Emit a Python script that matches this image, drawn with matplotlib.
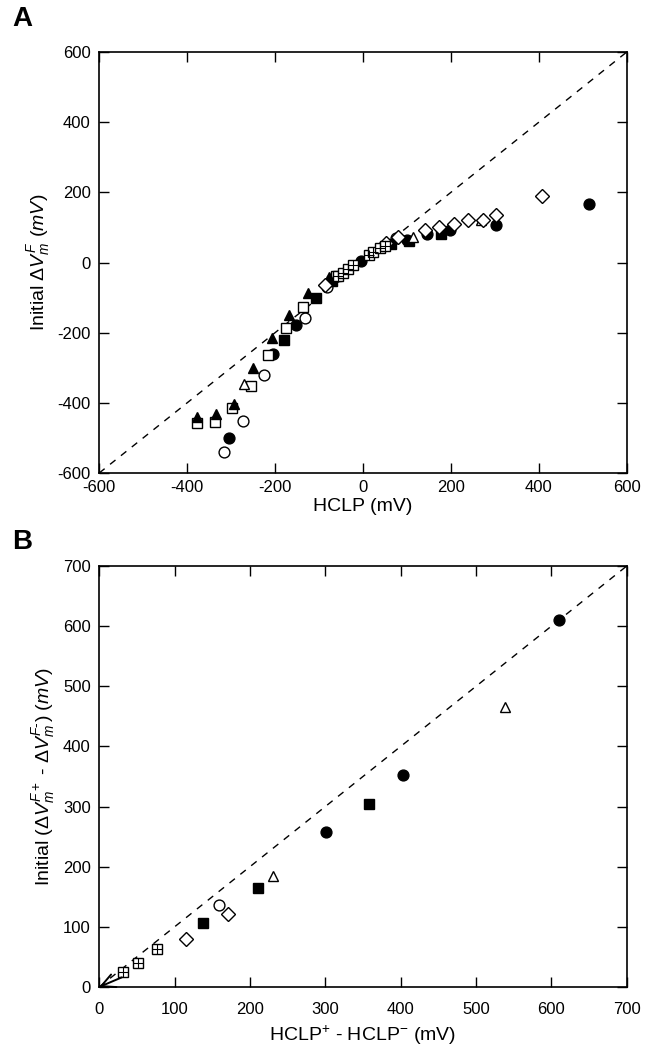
import matplotlib
matplotlib.use('Agg')
import matplotlib.pyplot as plt
import numpy as np

plt.rcParams['font.family'] = ['Liberation Sans', 'DejaVu Sans']
plt.rcParams['mathtext.fontset'] = 'custom'
plt.rcParams['mathtext.rm'] = 'Liberation Sans'
plt.rcParams['mathtext.it'] = 'Liberation Sans:italic'
plt.rcParams['mathtext.bf'] = 'Liberation Sans:bold'
plt.rcParams['axes.unicode_minus'] = False

# ---- panel A: HCLP (mV) vs initial dVm^F (mV), one list pair per symbol
a_fcirc_x = [-305, -204, -153, -4, 99, 146, 197, 302, 514]
a_fcirc_y = [-500, -261, -178, 5, 63, 81, 92, 108, 168]
a_ocirc_x = [-317, -272, -226, -132, -83, 75]
a_ocirc_y = [-540, -452, -322, -157, -70, 70]
a_fsq_x = [-180, -107, -70, 64, 105, 178]
a_fsq_y = [-222, -100, -54, 52, 62, 82]
a_osq_x = [-377, -336, -298, -255, -217, -174, -136, -62]
a_osq_y = [-458, -455, -414, -352, -265, -188, -127, -38]
a_ftri_x = [-377, -335, -294, -251, -208, -168, -125, -77]
a_ftri_y = [-440, -433, -402, -302, -214, -151, -87, -40]
a_otri_x = [-271, 114, 269]
a_otri_y = [-345, 74, 122]
a_diam_x = [-87, 53, 80, 142, 174, 206, 239, 272, 302, 407]
a_diam_y = [-64, 55, 74, 93, 101, 110, 120, 121, 136, 191]
a_xsq_x = [-57, -45, -34, -23, 14, 23, 38, 50]
a_xsq_y = [-38, -29, -19, -7, 22, 31, 41, 48]

# ---- panel B: HCLP+ - HCLP- (mV) vs initial difference (mV)
b_fcirc_x = [301, 403, 610]
b_fcirc_y = [258, 353, 610]
b_ocirc_x = [159]
b_ocirc_y = [137]
b_fsq_x = [138, 211, 358]
b_fsq_y = [106, 165, 304]
b_otri_x = [230, 539]
b_otri_y = [185, 465]
b_diam_x = [115, 171]
b_diam_y = [79, 122]
b_xsq_x = [32, 52, 77]
b_xsq_y = [25, 40, 63]

a_lim = [-600, 600]
a_ticks = [-600, -400, -200, 0, 200, 400, 600]
b_lim = [0, 700]
b_ticks = [0, 100, 200, 300, 400, 500, 600, 700]

ms = 7.8


def style(ax, lim, ticks):
    ax.set_xlim(lim)
    ax.set_ylim(lim)
    ax.set_xticks(ticks)
    ax.set_yticks(ticks)
    ax.tick_params(direction='in', length=7, width=1.0, top=True, right=True,
                   labelsize=12, pad=6)
    for s in ax.spines.values():
        s.set_linewidth(1.2)
    # identity line
    ax.plot(lim, lim, color='black', ls=(0, (5, 5)), lw=1.0, zorder=1)


def symbols(ax, fc, oc, fs, os_, ft, ot, dm, xs):
    kw = dict(ls='none', ms=ms, mec='black', mew=1.0, zorder=3)
    if fc: ax.plot(fc[0], fc[1], 'o', mfc='black', **kw)
    if oc: ax.plot(oc[0], oc[1], 'o', mfc='white', **kw)
    if fs: ax.plot(fs[0], fs[1], 's', mfc='black', **kw)
    if os_: ax.plot(os_[0], os_[1], 's', mfc='white', **kw)
    if ft: ax.plot(ft[0], ft[1], '^', mfc='black', **kw)
    if ot: ax.plot(ot[0], ot[1], '^', mfc='white', **kw)
    if dm: ax.plot(dm[0], dm[1], 'D', mfc='white', ms=ms * 0.85, ls='none',
                   mec='black', mew=1.0, zorder=3)
    if xs:
        ax.plot(xs[0], xs[1], 's', mfc='white', **kw)
        ax.plot(xs[0], xs[1], '+', color='black', ms=ms, mew=0.8, ls='none',
                zorder=4)


fig = plt.figure(figsize=(6.57, 10.53), dpi=100)

axA = fig.add_axes([0.151, 0.5508, 0.803, 0.3998])
style(axA, a_lim, a_ticks)
axA.tick_params(axis='x', pad=5)
symbols(axA, (a_fcirc_x, a_fcirc_y), (a_ocirc_x, a_ocirc_y),
        (a_fsq_x, a_fsq_y), (a_osq_x, a_osq_y), (a_ftri_x, a_ftri_y),
        (a_otri_x, a_otri_y), (a_diam_x, a_diam_y), (a_xsq_x, a_xsq_y))
axA.set_xlabel('HCLP (mV)', fontsize=14, labelpad=2)
axA.set_ylabel(r'Initial $\Delta\mathit{V}_{m}^{F}\ (mV)$', fontsize=14,
               labelpad=4)

axB = fig.add_axes([0.151, 0.0627, 0.803, 0.3998])
style(axB, b_lim, b_ticks)
axB.tick_params(axis='x', pad=11)
symbols(axB, (b_fcirc_x, b_fcirc_y), (b_ocirc_x, b_ocirc_y),
        (b_fsq_x, b_fsq_y), None, None,
        (b_otri_x, b_otri_y), (b_diam_x, b_diam_y), (b_xsq_x, b_xsq_y))
axB.annotate('', xy=(0, 0), xytext=(30, 16),
             arrowprops=dict(arrowstyle='->, head_length=0.7, head_width=0.35',
                             color='black', lw=1.4, mutation_scale=14,
                             shrinkA=0, shrinkB=0),
             zorder=5, annotation_clip=False)
axB.set_xlabel(r'HCLP$^{+}$ - HCLP$^{-}$ (mV)', fontsize=14, labelpad=5)
axB.set_ylabel(r'Initial ($\Delta\mathit{V}_{m}^{F+}$ - $\Delta\mathit{V}_{m}^{F\text{-}}$) $(mV)$',
               fontsize=14, labelpad=4)

fig.text(0.018, 0.982, 'A', fontsize=20, fontweight='bold', va='center')
fig.text(0.018, 0.485, 'B', fontsize=20, fontweight='bold', va='center')

fig.savefig('out.png', dpi=100)
